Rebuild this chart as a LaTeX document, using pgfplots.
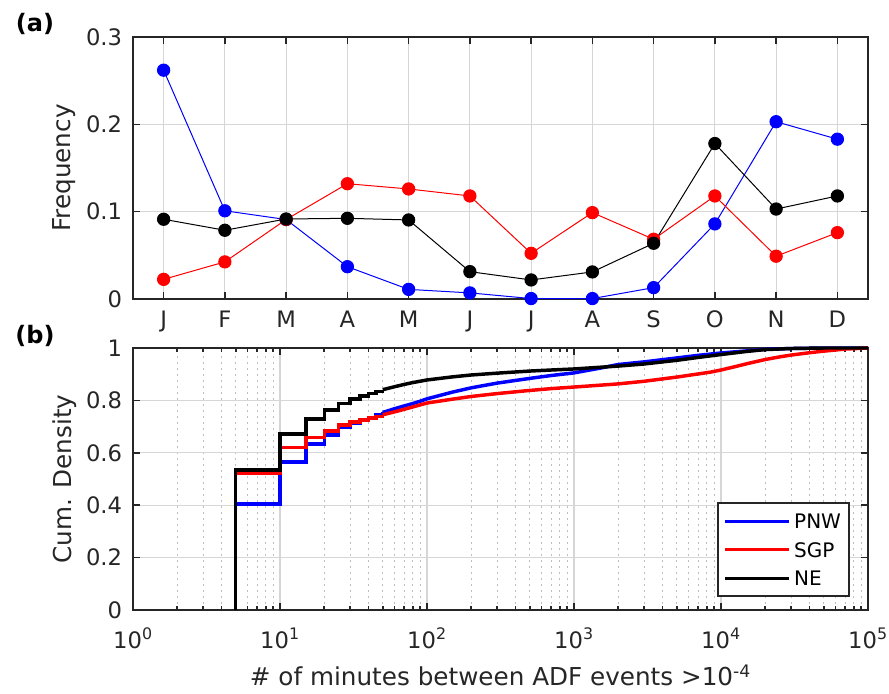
\documentclass[border=0pt]{standalone}
\usepackage{pgfplots}
\pgfplotsset{compat=1.18}
\usepackage{fontspec}
\setmainfont{DejaVu Sans}
\definecolor{txt}{HTML}{262626}
\definecolor{gridc}{HTML}{D6D6D6}
\definecolor{mgridc}{HTML}{BEBEBE}

\pgfplotsset{
  mystyle/.style={
    scale only axis, width=551.25pt, height=196.5pt,
    axis line style={line width=1.5pt, txt},
    every tick/.style={line width=1.2pt, txt},
    major tick length=5.5pt,
    minor tick length=3pt,
    tick align=inside,
    tick pos=both,
    grid=major,
    major grid style={line width=0.9pt, gridc},
    tick label style={font=\fontsize{17}{20}\selectfont, text=txt},
    yticklabel style={anchor=east, inner sep=0pt, xshift=-8pt},
    label style={font=\fontsize{18.5}{22}\selectfont, text=txt},
    ylabel style={at={(axis description cs:-0.0932,0.5)}, anchor=center, rotate=0},
    /pgf/number format/assume math mode=true,
    clip=false,
  }
}

\begin{document}
\begin{tikzpicture}
\useasboundingbox (0pt,0pt) rectangle (666.75pt,519.75pt);

% ---------------- (a) ----------------
\begin{axis}[mystyle,
  at={(99.75pt,295.5pt)}, anchor=south west,
  xmin=0.5, xmax=12.5, ymin=0, ymax=0.3,
  xtick={1,2,3,4,5,6,7,8,9,10,11,12},
  xticklabels={J,F,M,A,M,J,J,A,S,O,N,D},
  xticklabel style={anchor=base, inner sep=0pt, yshift=-21.75pt},
  ytick={0,0.1,0.2,0.3},
  yticklabels={0,0.1,0.2,0.3},
  ylabel={Frequency},
]
\addplot[blue, line width=0.75pt, mark=*, mark size=4.6pt, mark options={solid, fill=blue, draw=blue}]
 coordinates {(1,0.262) (2,0.101) (3,0.091) (4,0.037) (5,0.011) (6,0.007) (7,0.0005) (8,0.0005) (9,0.013) (10,0.086) (11,0.203) (12,0.183)};
\addplot[red, line width=0.75pt, mark=*, mark size=4.6pt, mark options={solid, fill=red, draw=red}]
 coordinates {(1,0.0225) (2,0.0425) (3,0.091) (4,0.132) (5,0.126) (6,0.118) (7,0.0523) (8,0.0989) (9,0.0684) (10,0.118) (11,0.049) (12,0.076)};
\addplot[black, line width=0.75pt, mark=*, mark size=4.6pt, mark options={solid, fill=black, draw=black}]
 coordinates {(1,0.0913) (2,0.0787) (3,0.0916) (4,0.0924) (5,0.0905) (6,0.0313) (7,0.0218) (8,0.031) (9,0.0638) (10,0.178) (11,0.103) (12,0.118)};
\end{axis}

% ---------------- (b) ----------------
\begin{axis}[mystyle,
  at={(99.75pt,62.25pt)}, anchor=south west,
  xmode=log, xmin=1, xmax=100000, ymin=0, ymax=1,
  xtick={1,10,100,1000,10000,100000},
  xticklabels={10\textsuperscript{0},10\textsuperscript{1},10\textsuperscript{2},10\textsuperscript{3},10\textsuperscript{4},10\textsuperscript{5}},
  xticklabel style={anchor=base, inner sep=0pt, yshift=-28.5pt},
  minor xtick={2,3,4,5,6,7,8,9,20,30,40,50,60,70,80,90,200,300,400,500,600,700,800,900,2000,3000,4000,5000,6000,7000,8000,9000,20000,30000,40000,50000,60000,70000,80000,90000},
  xminorgrids=true,
  minor grid style={line width=0.8pt, mgridc, dash pattern=on 1.5pt off 3pt},
  ytick={0,0.2,0.4,0.6,0.8,1},
  yticklabels={0,0.2,0.4,0.6,0.8,1},
  ylabel={Cum. Density},
  xlabel={\# of minutes between ADF events >10\textsuperscript{-4}},
  xlabel style={at={(axis description cs:0.5,-0.290)}, anchor=base},
  legend style={at={(axis description cs:0.9755,0.0496)}, anchor=south east,
    draw=txt, line width=1.5pt, fill=white,
    font=\fontsize{15}{18}\selectfont, text=black,
    inner xsep=4pt, inner ysep=5.8pt,
    nodes={inner sep=2pt, text height=11pt, text depth=0pt},
    row sep=6.4pt, column sep=0.5pt},
  legend cell align=left,
  legend image code/.code={\draw[#1, line width=2.5pt] (0pt,0pt) -- (48pt,0pt);},
]
% PNW
\addplot[blue, line width=2.6pt, const plot] coordinates {
 (5,0) (5,0.405) (10,0.564) (15,0.634) (20,0.668) (25,0.697) (30,0.712) (35,0.724) (40,0.735) (45,0.745) (50,0.754)};
\addlegendentry{PNW}
\addplot[blue, line width=2.6pt, forget plot] coordinates {
 (50,0.754) (60,0.768) (70,0.779) (80,0.788) (90,0.797) (100,0.806) (150,0.832) (200,0.848) (300,0.866) (500,0.884) (700,0.895)
 (1000,0.905) (1500,0.923) (2000,0.937) (3000,0.947) (5000,0.962) (7000,0.972) (10000,0.981) (15000,0.989)
 (20000,0.995) (30000,0.998) (50000,1.0) (100000,1.0)};
% SGP
\addplot[red, line width=2.6pt, const plot] coordinates {
 (5,0) (5,0.522) (10,0.621) (15,0.659) (20,0.684) (25,0.706) (30,0.718) (35,0.726) (40,0.733) (45,0.739) (50,0.745)};
\addlegendentry{SGP}
\addplot[red, line width=2.6pt, forget plot] coordinates {
 (50,0.745) (60,0.756) (70,0.766) (80,0.775) (100,0.790) (150,0.805) (200,0.815) (300,0.826) (500,0.838) (700,0.845)
 (1000,0.851) (2000,0.863) (3000,0.873) (5000,0.889) (7000,0.901) (8500,0.908) (10000,0.916) (12500,0.929)
 (15000,0.940) (20000,0.956) (25000,0.966) (30000,0.973) (40000,0.982) (50000,0.988) (70000,0.996) (100000,1.0)};
% NE
\addplot[black, line width=2.6pt, const plot] coordinates {
 (5,0) (5,0.534) (10,0.672) (15,0.729) (20,0.763) (25,0.789) (30,0.806) (35,0.817) (40,0.826) (45,0.834) (50,0.841)};
\addlegendentry{NE}
\addplot[black, line width=2.6pt, forget plot] coordinates {
 (50,0.841) (60,0.852) (70,0.861) (80,0.868) (100,0.878) (150,0.890) (200,0.897) (300,0.904) (500,0.912) (700,0.916)
 (1000,0.920) (2000,0.931) (3000,0.939) (5000,0.953) (7000,0.964) (10000,0.975) (15000,0.987) (20000,0.994)
 (30000,0.998) (50000,1.0) (100000,1.0)};
\end{axis}

\node[font=\bfseries\fontsize{18}{21}\selectfont, text=black] at (26.25pt,501.75pt) {(a)};
\node[font=\bfseries\fontsize{18}{21}\selectfont, text=black] at (26.25pt,267.75pt) {(b)};
\end{tikzpicture}
\end{document}
